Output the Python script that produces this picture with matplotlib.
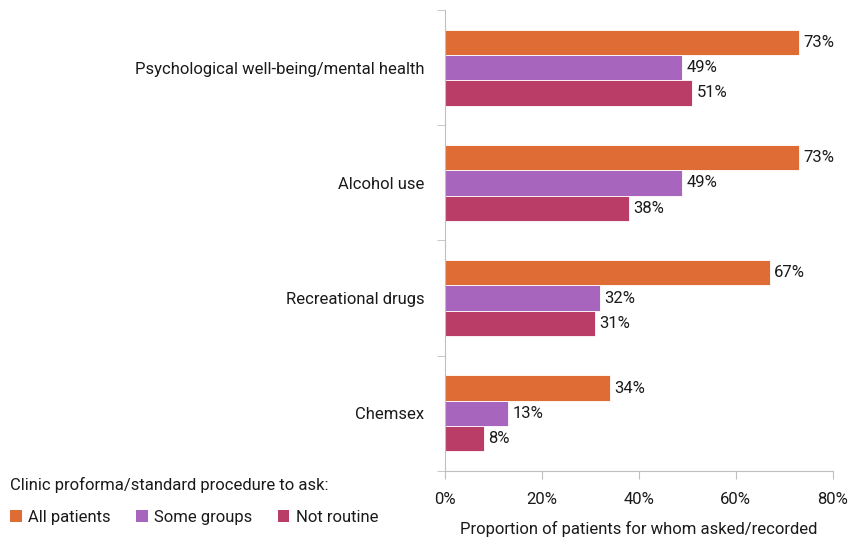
import numpy as np
import matplotlib.pyplot as plt
from matplotlib.patches import Patch

plt.rcParams['font.family'] = ['Roboto', 'DejaVu Sans']

categories = ["Psychological well-being/mental health", "Alcohol use",
              "Recreational drugs", "Chemsex"]
series = ["All patients", "Some groups", "Not routine"]
all_patients = [73, 73, 67, 34]
some_groups = [49, 49, 32, 13]
not_routine = [51, 38, 31, 8]
colors = ["#E06C35", "#A865BD", "#BA3D68"]
fs = 12
txt = "#1a1a1a"

fig = plt.figure(figsize=(8.5, 5.43), dpi=100)
ax = fig.add_axes([0.5235, 0.1326, 0.456, 0.849])

y = np.arange(len(categories))
h = 0.22
for i, (vals, name, c) in enumerate(zip([all_patients, some_groups, not_routine], series, colors)):
    pos = y + (i - 1) * h
    bars = ax.barh(pos, vals, height=h, color=c, label=name, edgecolor="white", linewidth=0.6)
    for b, v in zip(bars, vals):
        ax.text(v + 0.9, b.get_y() + b.get_height() / 2, f"{v}%", va="center", ha="left",
                fontsize=fs, color=txt)

ax.set_ylim(len(categories) - 0.5, -0.5)
ax.set_xlim(0, 80)
ax.set_yticks(y)
ax.set_yticklabels(categories, fontsize=fs, color=txt)
ax.set_yticks(np.arange(-0.5, len(categories), 1), minor=True)
ax.tick_params(axis="y", which="major", length=0, pad=15)
ax.tick_params(axis="y", which="minor", length=6, color="#BFBFBF", direction="out")
ax.set_xticks([0, 20, 40, 60, 80])
ax.set_xticklabels([f"{t}%" for t in [0, 20, 40, 60, 80]], fontsize=fs, color=txt)
ax.tick_params(axis="x", length=6, color="#BFBFBF", direction="out", pad=9)
ax.set_xlabel("Proportion of patients for whom asked/recorded", fontsize=fs, color=txt, labelpad=10)

for s in ["top", "right"]:
    ax.spines[s].set_visible(False)
for s in ["left", "bottom"]:
    ax.spines[s].set_color("#BFBFBF")

handles = [Patch(facecolor=c, label=n) for c, n in zip(colors, series)]
leg = fig.legend(handles=handles, loc="upper left", bbox_to_anchor=(0.0, 0.14), ncol=3,
                 title="Clinic proforma/standard procedure to ask:", frameon=False,
                 fontsize=fs, title_fontsize=fs, handlelength=0.7, handleheight=0.7,
                 handletextpad=0.4, columnspacing=1.5, alignment="left",
                 labelspacing=1.0, borderaxespad=0.2)
for t in leg.get_texts():
    t.set_color(txt)
leg.get_title().set_color(txt)

fig.savefig("out.png", dpi=100)
